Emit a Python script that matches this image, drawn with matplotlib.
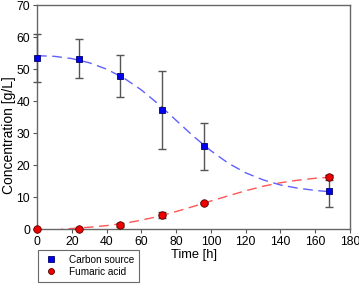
import numpy as np
import matplotlib.pyplot as plt

plt.rcParams['font.family'] = ['Liberation Sans', 'DejaVu Sans']

# measured points
time_h = [0, 24, 48, 72, 96, 168]
carbon = [53.5, 53.3, 47.8, 37.1, 25.9, 12.0]
carbon_err = [7.4, 6.0, 6.6, 12.2, 7.3, 5.0]
fumaric = [0.0, 0.0, 1.2, 4.5, 8.2, 16.2]
fumaric_err = [0.0, 0.0, 0.6, 1.0, 0.4, 0.8]

# fitted curves
fit_t_carbon = [0, 10, 20, 30, 40, 50, 60, 70, 80, 90, 100, 110, 120, 130, 140, 150, 160, 168]
fit_carbon = [54.2, 54.0, 53.3, 52.0, 50.0, 47.2, 43.5, 39.0, 34.0, 29.0, 24.5, 20.6,
              17.6, 15.4, 13.8, 12.8, 12.1, 11.7]
fit_t_fumaric = [0, 0.4, 5, 10, 15, 20, 30, 40, 50, 60, 70, 80, 90, 100, 110, 120, 130,
                 140, 150, 160, 168]
fit_fumaric = [4.0, -0.5, -1.0, -0.5, 0.0, 0.2, 0.6, 1.1, 1.8, 2.8, 4.0, 5.5, 7.1, 8.8,
               10.4, 12.0, 13.4, 14.5, 15.3, 15.9, 16.2]

fig = plt.figure(figsize=(3.59, 2.85), dpi=100)
ax = fig.add_axes([0.103, 0.196, 0.872, 0.786])

ax.plot(fit_t_carbon, fit_carbon, color='#6060ff', lw=1.0, dashes=(7, 4), zorder=2)
ax.plot(fit_t_fumaric, fit_fumaric, color='#ff5555', lw=1.0, dashes=(7, 4), zorder=2)

ax.errorbar(time_h, carbon, yerr=carbon_err, fmt='none', ecolor='#555555',
            elinewidth=1.0, capsize=2.8, capthick=1.0, zorder=3, clip_on=False)
ax.errorbar(time_h, fumaric, yerr=fumaric_err, fmt='none', ecolor='#555555',
            elinewidth=1.0, capsize=2.8, capthick=1.0, zorder=3)
ax.plot(time_h, carbon, 's', color='#0000ee', mec='#000066', mew=0.6, ms=4.8,
        label='Carbon source', zorder=4, clip_on=False)
ax.plot(time_h, fumaric, 'o', color='#ee0000', mec='#550000', mew=0.6, ms=5.4,
        label='Fumaric acid', zorder=4, clip_on=False)

ax.set_xlim(0, 180)
ax.set_ylim(0, 70)
ax.set_xticks(np.arange(0, 181, 20))
ax.set_yticks(np.arange(0, 71, 10))
ax.set_xlabel('Time [h]', fontsize=9.3, labelpad=1)
ax.set_ylabel('Concentration [g/L]', fontsize=10)
ax.yaxis.set_label_coords(-0.067, 0.42)
ax.tick_params(labelsize=8.8, length=3, color='#555555', direction='out', pad=2)
for s in ax.spines.values():
    s.set_color('#666666')
    s.set_linewidth(1.0)

leg = fig.legend(loc='upper left', bbox_to_anchor=(0.106, 0.123), fontsize=7.2,
                 frameon=True, fancybox=False, edgecolor='#444444',
                 borderpad=0.5, handlelength=1.6, handletextpad=1.0,
                 labelspacing=0.2, markerscale=0.8, borderaxespad=0)
leg.get_frame().set_linewidth(0.8)

fig.savefig('out.png', dpi=100)
